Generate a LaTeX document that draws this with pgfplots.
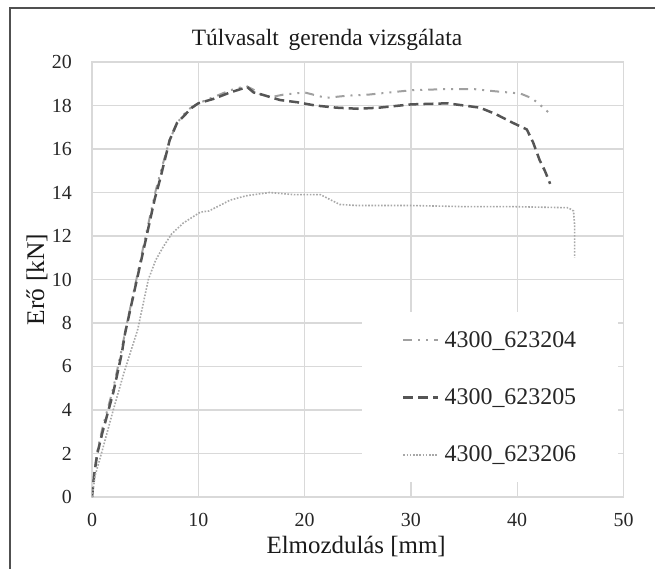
\documentclass[border=0pt]{standalone}
\usepackage{pgfplots}
\pgfplotsset{compat=1.18}
\usepackage{fontspec}
\setmainfont{Liberation Serif}
\definecolor{gridc}{HTML}{D9D9D9}
\definecolor{framec}{HTML}{505050}
\definecolor{sA}{HTML}{A0A0A0}
\definecolor{sB}{HTML}{555555}
\definecolor{sC}{HTML}{A8A8A8}
\begin{document}
\begin{tikzpicture}
\useasboundingbox (-92bp,-72bp) rectangle (563bp,497bp);
\draw[color=framec, line width=1.5bp] (-82bp,-80bp) -- (-82bp,489bp) -- (570bp,489bp);
\node[font=\fontsize{23.5}{24}\selectfont, color=black!90] at (235bp,457bp) {Túlvasalt\, gerenda vizsgálata};
\begin{axis}[
  at={(0,0)}, anchor=south west,
  scale only axis, width=531.5bp, height=435bp,
  xmin=0, xmax=50, ymin=0, ymax=20,
  xtick={0,10,...,50}, ytick={0,2,...,20},
  grid=major,
  major grid style={gridc, line width=1.2bp},
  axis line style={gridc, line width=1.2bp},
  major tick length=0pt,
  /pgf/number format/assume math mode=true,
  ticklabel style={font=\fontsize{20}{20}\selectfont, color=black!85},
  yticklabel style={anchor=east, inner sep=0pt, xshift=-20bp},
  xticklabel style={anchor=north, inner sep=0pt, yshift=-16bp},
  xlabel={Elmozdulás [mm]},
  ylabel={Erő [kN]},
  xlabel style={at={(0.497,0)}, anchor=base, yshift=-56bp, font=\fontsize{25}{25}\selectfont, color=black!90},
  ylabel style={at={(0,0.5)}, anchor=center, yshift=55bp, font=\fontsize{25.5}{25}\selectfont, color=black!90},
  legend cell align=left,
  legend image code/.code={\draw[#1] (0bp,0bp) -- (35bp,0bp);},
  legend style={at={(0.508,0.425)}, anchor=north west, draw=none, fill=white,
    inner xsep=40bp, inner ysep=17bp, row sep=36bp, column sep=3bp,
    font=\fontsize{24}{24}\selectfont, text=black!85},
]
\addplot[sA, line width=2bp, dash pattern=on 9bp off 6bp on 2bp off 6bp on 2bp off 6bp] coordinates {
(0,0) (0.2,1.1) (0.5,2.1) (1,3.2) (2,5.0) (2.8,6.8) (3.2,7.8) (4,9.6) (5,11.9) (6,14.1) (6.6,15.2) (7.3,16.4) (8,17.2) (9,17.8) (10,18.1) (11,18.3) (12,18.5) (13,18.7) (14.5,18.9) (15.3,18.7) (16,18.45) (17,18.4) (18,18.5) (20,18.6) (22,18.35) (24,18.45) (26,18.5) (28,18.6) (30,18.7) (33,18.75) (36,18.75) (38,18.65) (40.3,18.55) (41.3,18.35) (42,18.1) (42.9,17.7)
};
\addlegendentry{4300\_623204}
\addplot[sB, line width=2.5bp, dash pattern=on 10bp off 5bp] coordinates {
(0,0) (0.2,1.0) (0.5,2.0) (1,3.0) (2,4.8) (2.8,6.6) (3.1,7.5) (4,9.5) (5,11.7) (5.9,13.7) (6.4,14.6) (7.3,16.4) (8,17.2) (9.4,17.9) (10,18.1) (11.4,18.3) (13,18.6) (14.6,18.85) (15.2,18.6) (16,18.5) (17.7,18.25) (19.3,18.15) (21,18.0) (23,17.9) (25,17.85) (27,17.9) (30,18.05) (33.4,18.1) (35,18.0) (36.5,17.9) (38,17.6) (39.6,17.2) (40.9,16.9) (41.5,16.3) (42.1,15.5) (42.6,15.0) (43.1,14.4)
};
\addlegendentry{4300\_623205}
\addplot[sC, line width=1.6bp, dash pattern=on 1.6bp off 1.6bp] coordinates {
(0,0) (0.3,1.0) (1,2.2) (2,4.0) (3,5.7) (4.3,7.7) (5.3,10.0) (6,10.9) (6.7,11.5) (7.5,12.1) (8.6,12.6) (10.2,13.1) (11,13.15) (12,13.4) (13,13.65) (14.5,13.85) (16.7,14.0) (19,13.9) (21.5,13.9) (22.3,13.7) (23.3,13.45) (25,13.4) (30.2,13.4) (35,13.35) (39.6,13.35) (44.8,13.3) (45.3,13.15) (45.4,12.5) (45.4,11.0)
};
\addlegendentry{4300\_623206}
\end{axis}
\end{tikzpicture}
\end{document}
